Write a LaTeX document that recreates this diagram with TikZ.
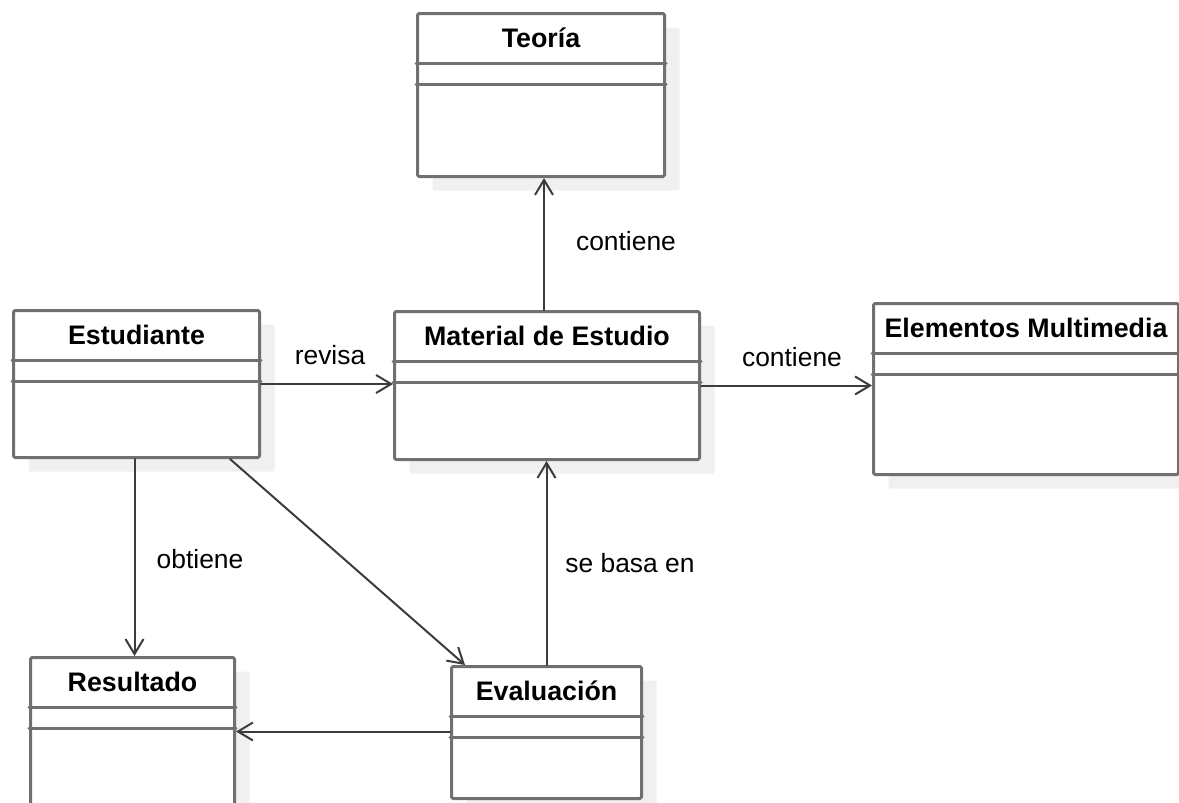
\documentclass[tikz,border=0pt]{standalone}
\usepackage{fontspec}
\setmainfont{Liberation Sans}
\usetikzlibrary{arrows.meta,shadows}
\definecolor{boxgray}{RGB}{112,112,112}
\definecolor{linegray}{RGB}{60,60,60}
\definecolor{shadowgray}{RGB}{240,240,240}

\begin{document}
\begin{tikzpicture}[line cap=round,line join=round,>={Straight Barb[length=15pt,width=18pt]},x=1pt,y=-1pt,
  clase/.style={draw=boxgray,line width=3pt,fill=white,rounded corners=1.5pt,anchor=north west,inner sep=0pt,
    drop shadow={shadow xshift=15pt,shadow yshift=-14pt,fill=shadowgray,opacity=1}},
  divisor/.style={draw=boxgray,line width=3pt},
  titulo/.style={font=\fontsize{26.8}{32}\selectfont\bfseries},
  etiqueta/.style={font=\fontsize{26.4}{32}\selectfont},
  asoc/.style={->,line width=2pt,color=linegray}]
\useasboundingbox (0,0) rectangle (1179,803);
\clip (0,0) rectangle (1179,803);
% clases
\node[clase,minimum width=247pt,minimum height=163pt] (teoria) at (416,12) {};
\node[clase,minimum width=246pt,minimum height=147pt] (est) at (12,309) {};
\node[clase,minimum width=305pt,minimum height=148pt] (mat) at (393,310) {};
\node[clase,minimum width=305pt,minimum height=171pt] (elem) at (872,302) {};
\node[clase,minimum width=204pt,minimum height=165pt] (res) at (29,656) {};
\node[clase,minimum width=190pt,minimum height=132pt] (eval) at (450,665) {};
\foreach \n/\t in {teoria/Teoría,est/Estudiante,mat/Material de Estudio,elem/Elementos Multimedia,res/Resultado,eval/Evaluación}{
  \node[titulo] (\n-tit) at ([yshift=-26pt]\n.north) {\t};
  \draw[divisor] ([yshift=-51pt]\n.north west) -- ([yshift=-51pt]\n.north east);
  \draw[divisor] ([yshift=-72pt]\n.north west) -- ([yshift=-72pt]\n.north east);
}
% asociaciones
\draw[asoc] ([xshift=-3pt]mat.north) -- ([xshift=-3pt]mat.north |- teoria.south);
\draw[asoc] (est.east) -- (est.east -| mat.west);
\draw[asoc] (mat.east) -- (mat.east -| elem.west);
\draw[asoc] ([xshift=-2pt]est.south) -- ([xshift=-2pt]est.south |- res.north);
\draw[asoc] ([xshift=-31pt]est.south east) -- ([xshift=15pt]eval.north west);
\draw[asoc] (eval.north) -- (eval.north |- mat.south);
\draw[asoc] ([yshift=1pt]eval.west) -- ([yshift=1pt]eval.west -| res.east);
% etiquetas
\node[etiqueta] (lbl-cont1) at (626,241) {contiene};
\node[etiqueta] (lbl-rev) at (330,355) {revisa};
\node[etiqueta] (lbl-cont2) at (792,357) {contiene};
\node[etiqueta] (lbl-obt) at (200,559) {obtiene};
\node[etiqueta] (lbl-base) at (630,563) {se basa en};
\end{tikzpicture}
\end{document}
